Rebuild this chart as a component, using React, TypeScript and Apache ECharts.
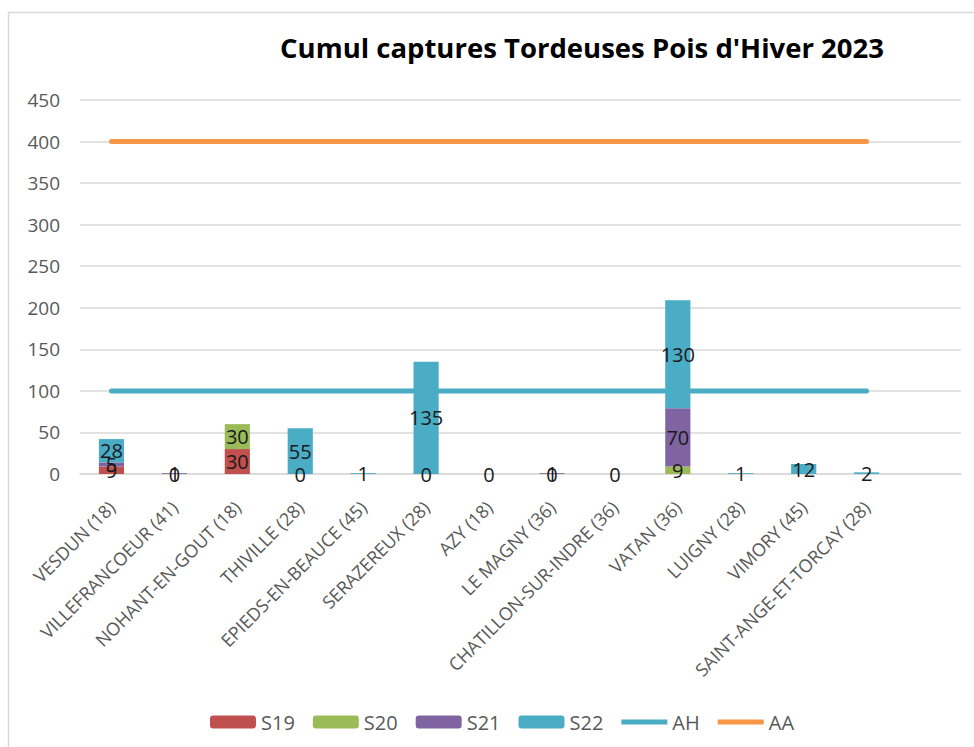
import React, { useEffect, useRef } from "react";
import * as echarts from "echarts";

const categories = [
  "VESDUN (18)",
  "VILLEFRANCOEUR (41)",
  "NOHANT-EN-GOUT (18)",
  "THIVILLE (28)",
  "EPIEDS-EN-BEAUCE (45)",
  "SERAZEREUX (28)",
  "AZY (18)",
  "LE MAGNY (36)",
  "CHATILLON-SUR-INDRE (36)",
  "VATAN (36)",
  "LUIGNY (28)",
  "VIMORY (45)",
  "SAINT-ANGE-ET-TORCAY (28)",
  "",
];

const s19 = [9, null, 30, null, null, null, null, null, null, null, null, null, null, null];
const s20 = [null, 0, 30, 0, null, 0, 0, 0, 0, 9, null, null, null, null];
const s21 = [5, 1, null, null, null, null, null, 1, null, 70, null, null, null, null];
const s22 = [28, null, null, 55, 1, 135, null, null, null, 130, 1, 12, 2, null];
const ah = [100, 100, 100, 100, 100, 100, 100, 100, 100, 100, 100, 100, 100, null];
const aa = [400, 400, 400, 400, 400, 400, 400, 400, 400, 400, 400, 400, 400, null];

const yTicks = { min: 0, max: 450, interval: 50 };

const FONT = "'Open Sans', 'Noto Sans', sans-serif";

export default function App() {
  const ref = useRef<HTMLDivElement>(null);
  useEffect(() => {
    if (!ref.current) return;
    const chart = echarts.init(ref.current, null, { renderer: "svg" });
    const barLabel = {
      show: true,
      position: "inside" as const,
      color: "#1a1a1a",
      fontSize: 20,
      fontFamily: FONT,
    };
    const barSeries = (name: string, data: (number | null)[], color: string) => ({
      name,
      type: "bar",
      stack: "total",
      data,
      barWidth: "40%",
      itemStyle: { color },
      label: barLabel,
    });
    const lineIcon = "path://M0,0 L46,0 L46,5 L0,5 Z";
    chart.setOption({
      animation: false,
      textStyle: { fontFamily: FONT },
      title: {
        text: "Cumul captures Tordeuses Pois d'Hiver 2023",
        left: 577,
        top: 28,
        textAlign: "center",
        textStyle: { fontSize: 27.5, fontWeight: "bold", color: "#000", fontFamily: FONT },
      },
      graphic: [
        {
          type: "rect",
          shape: { x: 8.5, y: 12.5, width: 1000, height: 800 },
          style: { fill: "none", stroke: "#d9d9d9", lineWidth: 1.5 },
          silent: true,
        },
      ],
      legend: {
        left: 205,
        top: 707,
        itemWidth: 46,
        itemHeight: 13,
        itemGap: 18,
        textStyle: { fontSize: 20, color: "#595959", fontFamily: FONT },
        data: [
          "S19",
          "S20",
          "S21",
          "S22",
          { name: "AH", icon: lineIcon },
          { name: "AA", icon: lineIcon },
        ],
      },
      grid: { left: 80, right: 13, top: 100, bottom: 273 },
      xAxis: {
        type: "category",
        data: categories,
        axisLine: { lineStyle: { color: "#d9d9d9", width: 1.5 } },
        axisTick: { show: false },
        axisLabel: {
          interval: 0,
          rotate: 45,
          margin: 30,
          fontSize: 18,
          color: "#595959",
          fontFamily: FONT,
        },
      },
      yAxis: {
        type: "value",
        min: yTicks.min,
        max: yTicks.max,
        interval: yTicks.interval,
        axisLine: { show: false },
        axisTick: { show: false },
        axisLabel: { fontSize: 19, color: "#595959", margin: 20, fontFamily: FONT },
        splitLine: { lineStyle: { color: "#d9d9d9", width: 1.5 } },
      },
      series: [
        barSeries("S19", s19, "#C0504D"),
        barSeries("S20", s20, "#9BBB59"),
        barSeries("S21", s21, "#8064A2"),
        barSeries("S22", s22, "#4BACC6"),
        {
          name: "AH",
          type: "line",
          data: ah,
          symbol: "none",
          itemStyle: { color: "#4BACC6" },
          lineStyle: { color: "#4BACC6", width: 5, cap: "round" },
          z: 1,
        },
        {
          name: "AA",
          type: "line",
          data: aa,
          symbol: "none",
          itemStyle: { color: "#F79646" },
          lineStyle: { color: "#F79646", width: 5, cap: "round" },
          z: 1,
        },
      ],
    });
    return () => chart.dispose();
  }, []);
  return (
    <div
      ref={ref}
      style={{ position: "fixed", left: 0, top: 0, width: 974, height: 747, background: "#fff" }}
    />
  );
}
